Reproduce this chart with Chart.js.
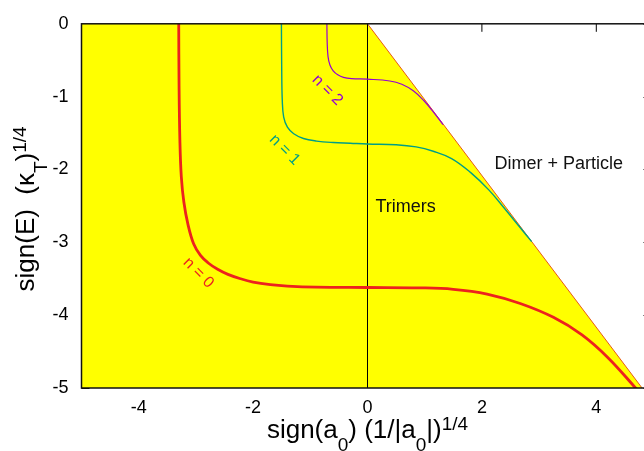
<!DOCTYPE html>
<html>
<head>
<meta charset="utf-8">
<script src="https://cdn.jsdelivr.net/npm/chart.js@4"></script>
<style>
  html, body { margin: 0; padding: 0; background: #fff; overflow: hidden; }
  #wrap { width: 644px; height: 451px; overflow: hidden; }
  canvas { display: block; }
</style>
</head>
<body>
<div id="wrap"><canvas id="efimov" width="662" height="451"></canvas></div>
<script>
// Trimer branches n = 0, 1, 2
const n0X = [-3.30, -3.295, -3.28, -3.255, -3.21, -3.14, -3.04, -2.92, -2.79, -2.62, -2.44, -2.22, -2.00, -1.70, -1.40, -0.90, 0.00, 0.90, 1.50, 2.09, 2.67, 3.25, 3.75, 4.20, 4.71]
const n0Y = [0.00, -0.80, -1.60, -2.10, -2.45, -2.75, -3.02, -3.18, -3.28, -3.37, -3.44, -3.50, -3.545, -3.58, -3.60, -3.615, -3.62, -3.625, -3.645, -3.71, -3.84, -4.03, -4.27, -4.58, -5.02]

const n1X = [-1.505, -1.50, -1.49, -1.465, -1.40, -1.29, -1.12, -0.89, -0.60, -0.30, 0.00, 0.50, 0.85, 1.15, 1.47, 1.80, 2.12, 2.40, 2.65, 2.87]
const n1Y = [0.00, -0.60, -1.05, -1.28, -1.42, -1.51, -1.575, -1.61, -1.63, -1.64, -1.65, -1.66, -1.69, -1.75, -1.85, -2.04, -2.28, -2.54, -2.78, -2.99]

const n2X = [-0.71, -0.705, -0.69, -0.655, -0.60, -0.52, -0.42, -0.28, 0.00, 0.39, 0.60, 0.80, 0.98, 1.15, 1.32]
const n2Y = [0.00, -0.25, -0.45, -0.57, -0.645, -0.70, -0.735, -0.752, -0.76, -0.785, -0.83, -0.92, -1.05, -1.21, -1.385]

// dimer + particle threshold
const thresholdX = [0, 4.8]
const thresholdY = [0, -5]

const xTickValues = [-4, -2, 0, 2, 4]
const yTickValues = [0, -1, -2, -3, -4, -5]

const curveLabels = [
    { text: 'n = 0', x: -2.955, y: -3.42, color: 'rgb(236,34,30)' },
    { text: 'n = 1', x: -1.45, y: -1.73, color: 'rgb(0,158,134)' },
    { text: 'n = 2', x: -0.70, y: -0.91, color: 'rgb(148,0,211)' }
]

const FONT = '"Liberation Sans", Arial, Helvetica, sans-serif'

const toPoints = (xs, ys) => xs.map((x, i) => ({ x, y: ys[i] }))

function drawRich(ctx, parts, size) {
    // parts: [text, mode] where mode 0 = normal, -1 = subscript, 1 = superscript
    const small = Math.round(size * 0.74)
    let width = 0
    parts.forEach(([t, mode]) => {
        ctx.font = (mode ? small : size) + 'px ' + FONT
        width += ctx.measureText(t).width
    })
    let x = -width / 2
    parts.forEach(([t, mode]) => {
        ctx.font = (mode ? small : size) + 'px ' + FONT
        const dy = mode === -1 ? size * 0.5 : mode === 1 ? -size * 0.3 : 0
        ctx.fillText(t, x, dy)
        x += ctx.measureText(t).width
    })
}

const decorations = {
    id: 'decorations',
    beforeDatasetsDraw(chart) {
        const { ctx, chartArea: a, scales: { x, y } } = chart
        ctx.save()
        ctx.strokeStyle = '#000'
        ctx.lineWidth = 1
        ctx.beginPath()
        xTickValues.forEach(v => {
            const px = x.getPixelForValue(v)
            ctx.moveTo(px, a.top); ctx.lineTo(px, a.top + 8)
            ctx.moveTo(px, a.bottom); ctx.lineTo(px, a.bottom - 8)
        })
        yTickValues.forEach(v => {
            const py = Math.round(y.getPixelForValue(v)) + 0.5
            ctx.moveTo(a.left, py); ctx.lineTo(a.left + 8, py)
            ctx.moveTo(a.right, py); ctx.lineTo(a.right - 10, py)
        })
        ctx.stroke()
        ctx.restore()
    },
    afterDatasetsDraw(chart) {
        const { ctx, chartArea: a, scales: { x, y } } = chart
        ctx.save()

        // frame
        ctx.strokeStyle = '#111'
        ctx.lineWidth = 1.5
        ctx.strokeRect(a.left, a.top, a.right - a.left, a.bottom - a.top)

        // branch labels
        ctx.textAlign = 'center'
        ctx.textBaseline = 'middle'
        ctx.font = '16px ' + FONT
        curveLabels.forEach(l => {
            ctx.save()
            ctx.translate(x.getPixelForValue(l.x), y.getPixelForValue(l.y))
            ctx.rotate(Math.PI / 4)
            ctx.fillStyle = l.color
            ctx.fillText(l.text, 0, 0)
            ctx.restore()
        })

        // region labels
        ctx.fillStyle = '#111'
        ctx.textAlign = 'left'
        ctx.textBaseline = 'alphabetic'
        ctx.font = '18px ' + FONT
        ctx.fillText('Trimers', x.getPixelForValue(0.14), y.getPixelForValue(-2.59))
        ctx.fillText('Dimer + Particle', x.getPixelForValue(2.22), y.getPixelForValue(-2.0))

        // axis titles
        ctx.fillStyle = '#000'
        ctx.save()
        ctx.translate((a.left + a.right) / 2, 438)
        drawRich(ctx, [['sign(a', 0], ['0', -1], [') (1/|a', 0], ['0', -1], ['|)', 0], ['1/4', 1]], 26)
        ctx.restore()

        ctx.save()
        ctx.translate(34, (a.top + a.bottom) / 2 + 3)
        ctx.rotate(-Math.PI / 2)
        drawRich(ctx, [['sign(E)  (\u03ba', 0], ['T', -1], [')', 0], ['1/4', 1]], 26)
        ctx.restore()

        ctx.restore()
    }
}

const line = (data, color, width, order) => ({
    data,
    showLine: true,
    borderColor: color,
    borderWidth: width,
    pointRadius: 0,
    fill: false,
    tension: 0.4,
    order
})

new Chart(document.getElementById('efimov').getContext('2d'), {
    type: 'scatter',
    data: {
        datasets: [
            line(toPoints(n0X, n0Y), 'rgb(236,34,30)', 2.8, 1),
            line(toPoints(n1X, n1Y), 'rgb(0,158,134)', 1.4, 2),
            line(toPoints(n2X, n2Y), 'rgb(148,0,211)', 1.2, 3),
            { ...line(toPoints([0, 0], [0, -5]), '#000', 1, 4), tension: 0 },
            { ...line(toPoints(thresholdX, thresholdY), 'rgb(232,90,20)', 1, 5), tension: 0 },
            {
                // bound-trimer region below the threshold
                data: toPoints([-5, ...thresholdX], [0, ...thresholdY]),
                showLine: true,
                borderWidth: 0,
                pointRadius: 0,
                backgroundColor: '#ffff00',
                fill: 'start',
                order: 10
            }
        ]
    },
    options: {
        responsive: false,
        animation: false,
        layout: { padding: { left: 0.5, top: 15, right: 8.5, bottom: 0 } },
        plugins: { legend: { display: false }, tooltip: { enabled: false } },
        scales: {
            x: {
                type: 'linear',
                min: -5,
                max: 5,
                grid: { display: false, drawTicks: false },
                border: { display: false },
                afterBuildTicks: s => { s.ticks = xTickValues.map(value => ({ value })) },
                afterFit: s => { s.height = 63 },
                ticks: { color: '#000', padding: 9, maxRotation: 0, font: { family: FONT, size: 18 } }
            },
            y: {
                type: 'linear',
                min: -5,
                max: 0,
                grid: { display: false, drawTicks: false },
                border: { display: false },
                afterBuildTicks: s => { s.ticks = yTickValues.map(value => ({ value })) },
                afterFit: s => { s.width = 81 },
                ticks: { color: '#000', padding: 13, font: { family: FONT, size: 18 } }
            }
        }
    },
    plugins: [decorations]
})
</script>
</body>
</html>
